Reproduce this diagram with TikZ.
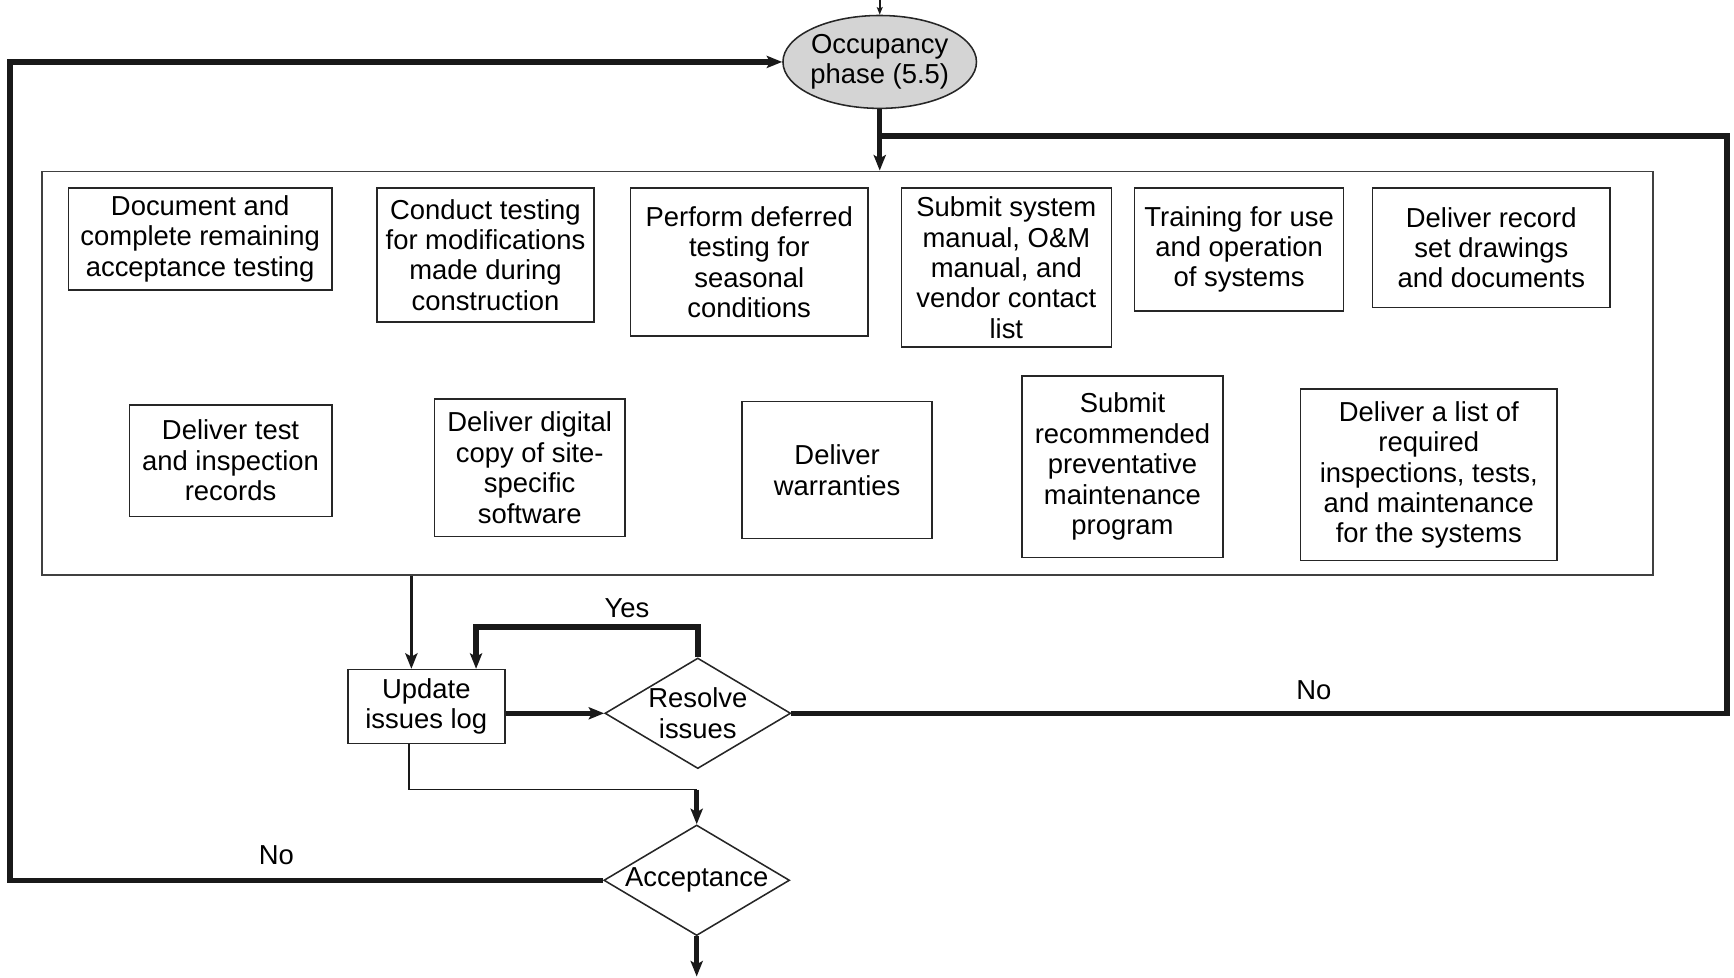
\documentclass[tikz,border=0pt]{standalone}
\usepackage{fontspec}
\setmainfont{Liberation Sans}
\usetikzlibrary{shapes.geometric,arrows.meta}
\begin{document}
\begin{tikzpicture}[x=0.5pt,y=-0.5pt,
  txt/.style={font=\fontsize{12.4}{13.75}\selectfont, align=center, text=black},
  box/.style={txt, draw=black!85, line width=0.7pt, inner sep=0pt},
  heavy/.style={line width=2.5pt, draw=black!90, line join=miter},
  medium/.style={line width=1.5pt, draw=black!90},
  thinline/.style={line width=0.75pt, draw=black!90},
  tip/.style={-{Stealth[length=7pt,width=5.5pt,inset=1.5pt]}},
  smalltip/.style={-{Stealth[length=3.4pt,width=2.6pt,inset=0.6pt]}},
]
\useasboundingbox (0,0) rectangle (1568,884);

% frame
\node[draw=black!75, line width=0.8pt, minimum width=728.5pt, minimum height=182.5pt, inner sep=0pt] (frame) at (766.5,337.5) {};

% ellipse
\node[ellipse, draw=black!85, fill=black!17, line width=0.7pt, minimum width=87.5pt, minimum height=42pt, inner sep=0pt,
  label={[txt]center:Occupancy\\phase (5.5)}] (occ) at (795.5,56) {};

% row 1
\node[box, minimum width=119pt, minimum height=46pt] (b1) at (181,216) {Document and\\complete remaining\\acceptance testing};
\node[box, minimum width=98pt, minimum height=60.5pt] (b2) at (439,230.5) {Conduct testing\\for modifications\\made during\\construction};
\node[box, minimum width=107.5pt, minimum height=67pt] (b3) at (677.5,237) {Perform deferred\\testing for\\seasonal\\conditions};
\node[box, minimum width=95pt, minimum height=72pt] (b4) at (910,242) {Submit system\\manual, O\&M\\manual, and\\vendor contact\\list};
\node[box, minimum width=94.5pt, minimum height=55.5pt] (b5) at (1120.5,225.5) {Training for use\\and operation\\of systems};
\node[box, minimum width=107.5pt, minimum height=54pt] (b6) at (1348.5,224) {Deliver record\\set drawings\\and documents};

% row 2
\node[box, minimum width=91.5pt, minimum height=50.5pt] (b7) at (208.5,416.5) {Deliver test\\and inspection\\records};
\node[box, minimum width=86pt, minimum height=62pt] (b8) at (479,423) {Deliver digital\\copy of site-\\specific\\software};
\node[box, minimum width=86pt, minimum height=62pt] (b9) at (757,425) {Deliver\\warranties};
\node[box, minimum width=91pt, minimum height=82pt] (b10) at (1015,422) {Submit\\recommended\\preventative\\maintenance\\program};
\node[box, minimum width=116pt, minimum height=77.5pt] (b11) at (1292,429.5) {Deliver a list of\\required\\inspections, tests,\\and maintenance\\for the systems};

% lower part
\node[box, minimum width=71pt, minimum height=33.5pt] (upd) at (385.5,639) {Update\\issues log};
\node[diamond, draw=black!85, line width=0.7pt, minimum width=84pt, minimum height=50pt, inner sep=0pt,
  label={[txt]center:Resolve\\issues}] (res) at (631,645) {};
\node[diamond, draw=black!85, line width=0.7pt, minimum width=84pt, minimum height=50pt, inner sep=0pt,
  label={[txt]center:Acceptance}] (acc) at (630,796) {};

% labels
\node[txt] (yes) at (567,550) {Yes};
\node[txt] (no1) at (1188,624) {No};
\node[txt] (no2) at (250,773) {No};

% coordinates
\coordinate (top) at (795.5,0);
\coordinate (lc) at (9,56);
\coordinate (rc) at (1561.5,123);
\coordinate (fx) at (372,0);
\coordinate (yx) at (430.5,567);
\coordinate (ux) at (370,714);
\coordinate (bot) at (630,883);

% connectors
\draw[line width=0.9pt, draw=black!90, smalltip] (top) -- (occ.north);
\draw[heavy, tip] (occ.south) -- (frame.north -| occ.south);
\draw[heavy, tip] (acc.west) -- (acc.west -| lc) -- (lc) -- (occ.west);
\draw[heavy] (res.east) -- (res.east -| rc) -- (rc) -- (rc -| occ.south);
\draw[medium, tip] (frame.south -| fx) -- (upd.north -| fx);
\draw[heavy, tip] (res.north) |- (yx) -- (upd.north -| yx);
\draw[heavy, tip] (res.west -| upd.east) -- (res.west);
\draw[thinline] (upd.south -| ux) -- (ux) -- (ux -| acc.north);
\draw[heavy, tip] (ux -| acc.north) -- (acc.north);
\draw[heavy, tip] (acc.south) -- (bot);
\end{tikzpicture}
\end{document}
